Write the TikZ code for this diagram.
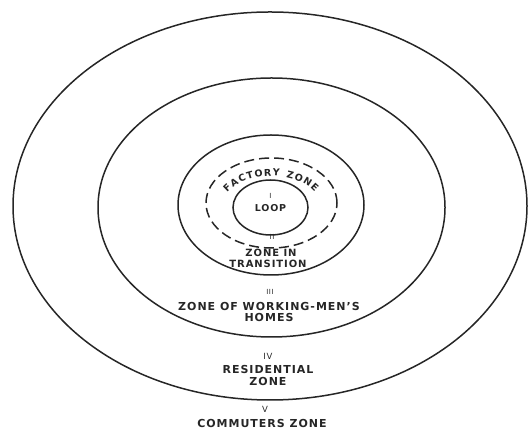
\documentclass[tikz,border=0pt]{standalone}
\usepackage{fontspec}
\setmainfont{DejaVu Sans}[LetterSpace=9]
\usetikzlibrary{decorations.text}
\tikzset{
  ring/.style={draw=black!85, line width=1.5pt},
  dashring/.style={draw=black!85, line width=1.5pt, dash pattern=on 10pt off 5pt},
  lbl/.style={inner sep=0pt, font=\bfseries\fontsize{11}{12}\selectfont, text=black!85},
  num/.style={inner sep=0pt, font=\fontsize{7}{8}\selectfont, text=black!85},
}
\begin{document}
\begin{tikzpicture}[x=1pt,y=1pt]
\useasboundingbox (0,0) rectangle (529,430);
% rings
\draw[ring] (270,224) ellipse [x radius=257, y radius=194];
\draw[ring] (271.5,222.5) ellipse [x radius=173.5, y radius=129.5];
\draw[ring] (271,225) ellipse [x radius=93, y radius=70];
\draw[dashring] (271.5,227) ellipse [x radius=65.5, y radius=45];
\draw[ring] (270.5,222.5) ellipse [x radius=37.5, y radius=27.5];
% curved label
\path[decorate, decoration={text effects along path, text={FACTORY ZONE}, text align=center,
  text effects/.cd, text along path,
  characters={font=\bfseries\fontsize{9.5}{9.5}\selectfont, text=black!85, inner sep=0pt, anchor=base},
  character widths={font=\bfseries\fontsize{9.5}{9.5}\selectfont, inner xsep=0.6pt}}]
  (271,222) ++(174:50 and 32) arc[start angle=174, end angle=6, x radius=50, y radius=32];
% labels
\node[num] (n1) at (270.5,234) {I};
\node[lbl, font=\bfseries\fontsize{9.5}{10}\selectfont] (loop) at (270.5,222) {LOOP};
\node[num] (n2) at (272,193) {II};
\node[lbl, font=\bfseries\fontsize{10}{10}\selectfont] (zin) at (271,177) {ZONE IN};
\node[lbl, font=\bfseries\fontsize{10}{10}\selectfont] (trans) at (268,166) {TRANSITION};
\node[num] (n3) at (270,138) {III};
\node[lbl] (work) at (269,124) {ZONE OF WORKING-MEN'S};
\node[lbl] (homes) at (269,113) {HOMES};
\node[num, font=\fontsize{8.5}{9}\selectfont] (n4) at (268,74) {IV};
\node[lbl] (res) at (268,61) {RESIDENTIAL};
\node[lbl] (rzone) at (268,49) {ZONE};
\node[num, font=\fontsize{8.5}{9}\selectfont] (n5) at (265,21) {V};
\node[lbl] (comm) at (262,7) {COMMUTERS ZONE};
\end{tikzpicture}
\end{document}
